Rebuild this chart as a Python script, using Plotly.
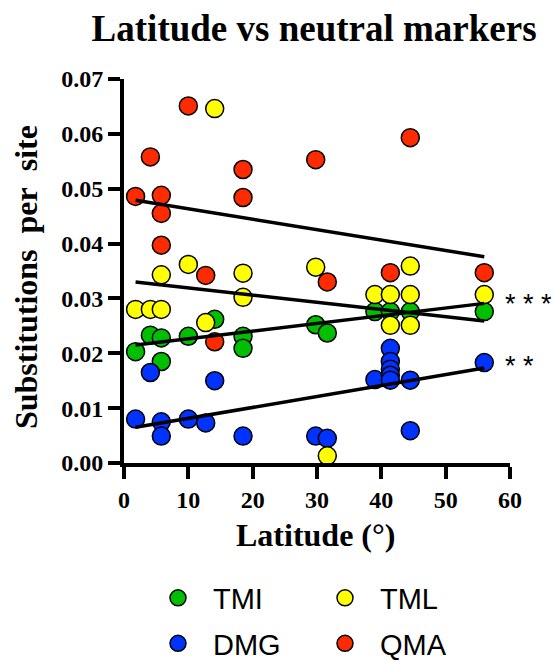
import plotly.graph_objects as go

# Latitude of each sampling site and substitutions per site, by marker set
tmi_lat = [1.8, 4.1, 5.8, 5.8, 10.0, 14.1, 18.5, 18.5, 29.8, 31.6, 39.0, 41.4, 44.5, 56.0]
tmi_sub = [0.0203, 0.0233, 0.0228, 0.0185, 0.0231, 0.0262, 0.0231, 0.0209, 0.0252, 0.0237,
           0.0276, 0.0276, 0.0276, 0.0276]

dmg_lat = [1.8, 4.1, 5.8, 5.8, 10.0, 12.7, 14.1, 18.5, 29.8, 31.6, 39.0,
           41.4, 41.4, 41.4, 41.4, 41.4, 44.5, 44.5, 56.0]
dmg_sub = [0.0080, 0.0165, 0.0075, 0.0049, 0.0080, 0.0073, 0.0150, 0.0049, 0.0049, 0.0045,
           0.0152, 0.0209, 0.0185, 0.0171, 0.0160, 0.0151, 0.0151, 0.0059, 0.0183]

tml_lat = [1.8, 4.1, 5.8, 5.8, 10.0, 12.7, 14.1, 18.5, 18.5, 29.8, 31.6, 39.0,
           41.4, 41.4, 44.5, 44.5, 44.5, 56.0]
tml_sub = [0.0280, 0.0280, 0.0280, 0.0343, 0.0362, 0.0256, 0.0646, 0.0346, 0.0302, 0.0357,
           0.0013, 0.0307, 0.0307, 0.0251, 0.0359, 0.0307, 0.0251, 0.0307]

qma_lat = [1.8, 4.1, 5.8, 5.8, 5.8, 10.0, 12.7, 14.1, 18.5, 18.5, 29.8, 31.6, 41.4, 44.5, 56.0]
qma_sub = [0.0486, 0.0558, 0.0488, 0.0455, 0.0397, 0.0651, 0.0342, 0.0221, 0.0535, 0.0484,
           0.0553, 0.0330, 0.0347, 0.0593, 0.0347]

# Linear regression lines: fitted values at the lowest and highest latitude
fit_lat = [1.8, 56.0]
tmi_fit = [0.0215, 0.0291]
dmg_fit = [0.0065, 0.0173]
tml_fit = [0.0330, 0.0259]
qma_fit = [0.0479, 0.0376]

# Significance of the regression slopes
sig_labels = ["* * *", "* *"]
sig_y = [0.0297, 0.01845]

x_ticks = [0, 10, 20, 30, 40, 50, 60]
y_ticks = [0.00, 0.01, 0.02, 0.03, 0.04, 0.05, 0.06, 0.07]

SERIF = "Liberation Serif"
SANS = "Liberation Sans"

series = [
    ("TMI", tmi_lat, tmi_sub, tmi_fit, "#00BF00", "legend"),
    ("DMG", dmg_lat, dmg_sub, dmg_fit, "#0033FF", "legend2"),
    ("TML", tml_lat, tml_sub, tml_fit, "#FFFF00", "legend"),
    ("QMA", qma_lat, qma_sub, qma_fit, "#FF2B00", "legend2"),
]

fig = go.Figure()
for name, lat, sub, fit, color, leg in series:
    fig.add_trace(go.Scatter(
        x=lat, y=sub, mode="markers", name=name, legend=leg,
        marker=dict(size=18, color=color, line=dict(color="black", width=1.5)),
        cliponaxis=False,
    ))
for name, lat, sub, fit, color, leg in series:
    fig.add_trace(go.Scatter(
        x=fit_lat, y=fit, mode="lines", showlegend=False,
        line=dict(color="black", width=3.5), cliponaxis=False,
    ))

for label, yv in zip(sig_labels, sig_y):
    fig.add_annotation(x=58.9, y=yv, xref="x", yref="y", text=label, showarrow=False,
                       xanchor="left", yanchor="middle", yshift=-4,
                       font=dict(family=SANS, size=27, color="black"))

fig.add_annotation(x=0.497, y=-0.1875, xref="paper", yref="paper", text="Latitude (°)",
                   showarrow=False, xanchor="center", yanchor="middle",
                   font=dict(family=SERIF, size=32, color="black", weight="bold"))
fig.add_annotation(x=-0.254, y=0.484, xref="paper", yref="paper",
                   text="Substitutions&nbsp; per&nbsp; site", textangle=-90,
                   showarrow=False, xanchor="center", yanchor="middle",
                   font=dict(family=SERIF, size=32, color="black", weight="bold"))

axis_common = dict(
    showline=True, linecolor="black", linewidth=4,
    ticks="outside", ticklen=12, tickwidth=4, tickcolor="black",
    showgrid=False, zeroline=False,
    tickfont=dict(family=SERIF, size=24, color="black", weight="bold"),
)

legend_common = dict(
    orientation="h", xanchor="left", yanchor="middle",
    xref="container", yref="container",
    entrywidth=92, entrywidthmode="pixels", itemwidth=60,
    font=dict(family=SANS, size=29, color="black"),
    bgcolor="rgba(0,0,0,0)",
)

fig.update_layout(
    width=554, height=661,
    margin=dict(l=124, r=44, t=79, b=198, autoexpand=False),
    paper_bgcolor="white", plot_bgcolor="white",
    title=dict(text="Latitude vs neutral markers", x=0.567, xanchor="center",
               y=1 - 28 / 661, yanchor="middle", yref="container",
               font=dict(family=SERIF, size=37, color="black", weight="bold")),
    xaxis=dict(range=[0, 60], tickvals=x_ticks, ticktext=[str(v) for v in x_ticks], **axis_common),
    yaxis=dict(range=[0, 0.07], tickvals=y_ticks, ticktext=[f"{v:.2f}" for v in y_ticks], **axis_common),
    legend=dict(x=143 / 554, y=1 - 598 / 661, **legend_common),
    legend2=dict(x=143 / 554, y=1 - 643.5 / 661, **legend_common),
    showlegend=True,
)

fig.write_html("out.html")
